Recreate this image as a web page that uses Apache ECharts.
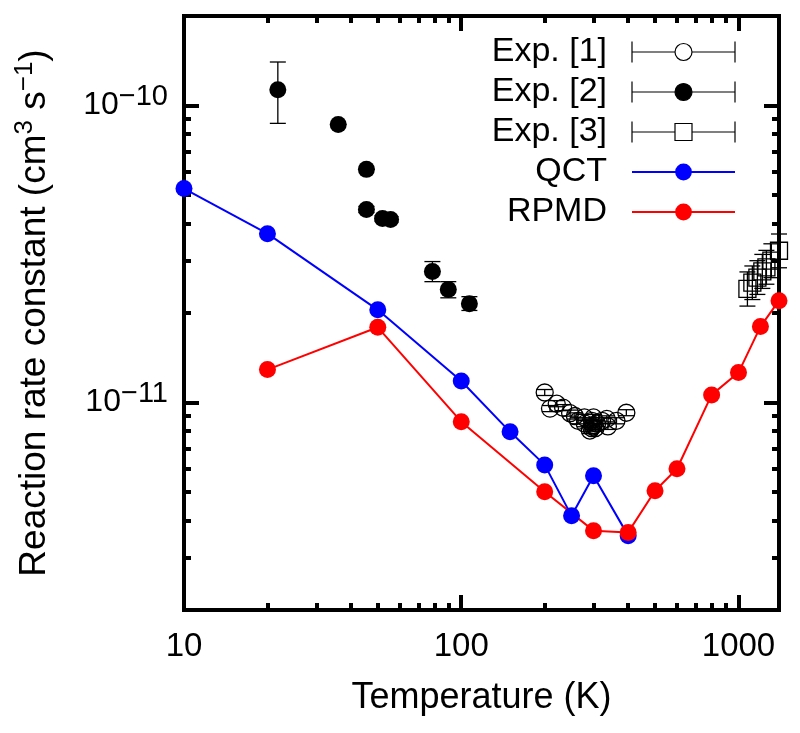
<!DOCTYPE html>
<html><head><meta charset="utf-8">
<script src="https://cdn.jsdelivr.net/npm/echarts@6/dist/echarts.min.js"></script>
<style>html,body{margin:0;padding:0;background:#fff}#c{width:800px;height:733px}</style>
</head><body><div id="c"></div>
<script>
const FONT = "'Liberation Sans', Arial, Helvetica, sans-serif";

// ---- data ----
const qctT = [10, 20, 50, 100, 150, 200, 250, 300, 400];
const qctK = [5.25e-11, 3.70e-11, 2.05e-11, 1.18e-11, 7.96e-12, 6.16e-12, 4.15e-12, 5.66e-12, 3.56e-12];

const rpmdT = [20, 50, 100, 200, 300, 400, 500, 600, 800, 1000, 1200, 1400];
const rpmdK = [1.29e-11, 1.79e-11, 8.61e-12, 5.00e-12, 3.70e-12, 3.65e-12, 5.04e-12, 5.98e-12, 1.06e-11, 1.26e-11, 1.80e-11, 2.20e-11];

const exp1T  = [200, 209, 221, 233, 247, 257, 264, 278, 279, 291, 295, 296, 298, 300, 300, 305, 309, 322, 335, 338, 363, 394];
const exp1K  = [1.08e-11, 9.53e-12, 9.90e-12, 9.60e-12, 9.20e-12, 9.00e-12, 8.67e-12, 8.90e-12, 8.48e-12, 8.04e-12, 8.20e-12, 8.67e-12, 8.30e-12, 8.40e-12, 8.90e-12, 8.20e-12, 8.48e-12, 8.67e-12, 8.80e-12, 8.30e-12, 8.67e-12, 9.23e-12];
const exp1Lo = [1.055e-11, 9.31e-12, 9.67e-12, 9.38e-12, 8.99e-12, 8.79e-12, 8.47e-12, 8.69e-12, 8.28e-12, 7.85e-12, 8.01e-12, 8.47e-12, 8.11e-12, 8.20e-12, 8.69e-12, 8.01e-12, 8.28e-12, 8.47e-12, 8.60e-12, 8.11e-12, 8.47e-12, 9.02e-12];
const exp1Hi = [1.105e-11, 9.76e-12, 1.014e-11, 9.83e-12, 9.42e-12, 9.22e-12, 8.88e-12, 9.11e-12, 8.68e-12, 8.23e-12, 8.40e-12, 8.88e-12, 8.50e-12, 8.60e-12, 9.11e-12, 8.40e-12, 8.68e-12, 8.88e-12, 9.01e-12, 8.50e-12, 8.88e-12, 9.45e-12];

const exp2T  = [21.8, 36, 45.5, 45.5, 52, 55.6, 78.7, 89.8, 107];
const exp2K  = [1.13e-10, 8.63e-11, 6.09e-11, 4.46e-11, 4.16e-11, 4.13e-11, 2.76e-11, 2.40e-11, 2.15e-11];
const exp2Lo = [8.70e-11, 8.63e-11, 6.09e-11, 4.36e-11, 4.08e-11, 4.05e-11, 2.55e-11, 2.25e-11, 2.04e-11];
const exp2Hi = [1.40e-10, 8.63e-11, 6.09e-11, 4.57e-11, 4.25e-11, 4.22e-11, 2.98e-11, 2.55e-11, 2.27e-11];

const exp3T  = [1077, 1122, 1170, 1219, 1261, 1314, 1400];
const exp3K  = [2.41e-11, 2.53e-11, 2.63e-11, 2.76e-11, 2.85e-11, 3.00e-11, 3.24e-11];
const exp3Lo = [2.11e-11, 2.22e-11, 2.31e-11, 2.42e-11, 2.50e-11, 2.63e-11, 2.84e-11];
const exp3Hi = [2.75e-11, 2.88e-11, 3.00e-11, 3.15e-11, 3.25e-11, 3.42e-11, 3.69e-11];

const xMin = 10, xMax = 1400, yMin = 2e-12, yMax = 2e-10;
const xMajor = [10, 100, 1000];
const xMinor = [20, 30, 40, 50, 60, 70, 80, 90, 200, 300, 400, 500, 600, 700, 800, 900];
const yMajor = [1e-11, 1e-10];
const yMinor = [3e-12, 4e-12, 5e-12, 6e-12, 7e-12, 8e-12, 9e-12, 2e-11, 3e-11, 4e-11, 5e-11, 6e-11, 7e-11, 8e-11, 9e-11];

// ---- build ----
const L = Math.log10;
const zip = (a, b) => a.map((v, i) => [v, b[i]]);
const zip4 = (a, b, c, d) => a.map((v, i) => [v, b[i], c[i], d[i]]);

function errRender(params, api) {
  const x = api.value(0), lo = api.value(2), hi = api.value(3);
  const a = api.coord([x, lo]), b = api.coord([x, hi]);
  const w = 8;
  const st = { stroke: '#000', lineWidth: 1.3 };
  return { type: 'group', children: [
    { type: 'line', shape: { x1: a[0], y1: a[1], x2: b[0], y2: b[1] }, style: st },
    { type: 'line', shape: { x1: a[0] - w, y1: a[1], x2: a[0] + w, y2: a[1] }, style: st },
    { type: 'line', shape: { x1: b[0] - w, y1: b[1], x2: b[0] + w, y2: b[1] }, style: st }
  ]};
}

const tickStyle = { color: '#000', width: 4 };
function decoX(pos, vals, len, labels, extra) {
  return Object.assign({
    type: 'value', position: pos, min: L(xMin), max: L(xMax),
    axisLine: { show: false, onZero: false },
    splitLine: { show: false },
    axisTick: { show: true, inside: true, length: len, lineStyle: tickStyle, customValues: vals.map(L) },
    axisLabel: labels ? {
      show: true, customValues: vals.map(L), margin: 20,
      fontFamily: FONT, fontSize: 33, color: '#000',
      formatter: v => String(Math.round(Math.pow(10, v)))
    } : { show: false }
  }, extra || {});
}
function decoY(pos, vals, len, labels, extra) {
  return Object.assign({
    type: 'value', position: pos, min: L(yMin), max: L(yMax),
    axisLine: { show: false, onZero: false },
    splitLine: { show: false },
    axisTick: { show: true, inside: true, length: len, lineStyle: tickStyle, customValues: vals.map(L) },
    axisLabel: labels ? {
      show: true, customValues: vals.map(L), margin: 16, color: '#000',
      formatter: v => '{b|10}{s|\u2212' + Math.abs(Math.round(v)) + '}',
      rich: {
        b: { fontFamily: FONT, fontSize: 32, lineHeight: 46, color: '#000' },
        s: { fontFamily: FONT, fontSize: 29, lineHeight: 29, verticalAlign: 'top', color: '#000' }
      }
    } : { show: false }
  }, extra || {});
}

const ICON_C = 'path://M0,0V21M0,10.5H43M60,10.5H103M103,0V21M43,10.5A8.5,8.5,0,0,1,60,10.5A8.5,8.5,0,0,1,43,10.5Z';
const ICON_S = 'path://M0,0V21M0,10.5H43M60,10.5H103M103,0V21M43,2H60V19H43Z';

const option = {
  animation: false,
  backgroundColor: '#fff',
  grid: { show: true, borderWidth: 4, borderColor: '#000', left: 184, top: 16, width: 595, height: 594 },
  legend: {
    orient: 'vertical', align: 'right', right: 64, top: 34, padding: 0,
    itemWidth: 103, itemHeight: 21, itemGap: 4, selectedMode: false,
    textStyle: { fontFamily: FONT, fontSize: 34, color: '#000', lineHeight: 36, padding: [0, 20, 0, 0] },
    data: [
      { name: 'Exp. [1]', icon: ICON_C, itemStyle: { color: '#fff', borderColor: '#000', borderWidth: 1.2, opacity: 1 } },
      { name: 'Exp. [2]', icon: ICON_C, itemStyle: { color: '#000', borderColor: '#000', borderWidth: 1.2, opacity: 1 } },
      { name: 'Exp. [3]', icon: ICON_S, itemStyle: { color: '#fff', borderColor: '#000', borderWidth: 1.2, opacity: 1 } },
      { name: 'QCT' },
      { name: 'RPMD' }
    ]
  },
  xAxis: [
    { type: 'log', min: xMin, max: xMax, show: false, position: 'bottom', axisLine: { onZero: false } },
    decoX('bottom', xMajor, 15, true, {
      name: 'Temperature (K)', nameLocation: 'middle', nameGap: 70,
      nameTextStyle: { fontFamily: FONT, fontSize: 36, color: '#000' }
    }),
    decoX('bottom', xMinor, 7, false),
    decoX('top', xMajor, 15, false),
    decoX('top', xMinor, 7, false)
  ],
  yAxis: [
    { type: 'log', min: yMin, max: yMax, show: false, position: 'left', axisLine: { onZero: false } },
    decoY('left', yMajor, 15, true, {
      name: '{a|Reaction rate constant (cm}{s|3}{a| s}{s|\u22121}{a|)}',
      nameLocation: 'middle', nameGap: 126, nameRotate: 90,
      nameTextStyle: { rich: {
        a: { fontFamily: FONT, fontSize: 37, lineHeight: 46, color: '#000' },
        s: { fontFamily: FONT, fontSize: 26, lineHeight: 26, verticalAlign: 'top', color: '#000' }
      } }
    }),
    decoY('left', yMinor, 7, false),
    decoY('right', yMajor, 15, false),
    decoY('right', yMinor, 7, false)
  ],
  series: [
    { type: 'custom', name: 'err1', renderItem: errRender, clip: false, data: zip4(exp1T, exp1K, exp1Lo, exp1Hi), encode: { x: 0, y: 1 } },
    { type: 'scatter', name: 'Exp. [1]', symbol: 'circle', symbolSize: 17, clip: false,
      itemStyle: { color: 'rgba(0,0,0,0)', borderColor: '#000', borderWidth: 1.3, opacity: 1 }, data: zip(exp1T, exp1K) },
    { type: 'custom', name: 'err2', renderItem: errRender, clip: false, data: zip4(exp2T, exp2K, exp2Lo, exp2Hi), encode: { x: 0, y: 1 } },
    { type: 'scatter', name: 'Exp. [2]', symbol: 'circle', symbolSize: 17, clip: false,
      itemStyle: { color: '#000', borderColor: '#000', borderWidth: 0, opacity: 1 }, data: zip(exp2T, exp2K) },
    { type: 'custom', name: 'err3', renderItem: errRender, clip: false, data: zip4(exp3T, exp3K, exp3Lo, exp3Hi), encode: { x: 0, y: 1 } },
    { type: 'scatter', name: 'Exp. [3]', symbol: 'rect', symbolSize: 17, clip: false,
      itemStyle: { color: 'rgba(0,0,0,0)', borderColor: '#000', borderWidth: 1.3, opacity: 1 }, data: zip(exp3T, exp3K) },
    { type: 'line', name: 'QCT', symbol: 'circle', symbolSize: 17, showAllSymbol: true, clip: false,
      itemStyle: { color: '#0000ff' }, lineStyle: { color: '#0000ff', width: 2 }, data: zip(qctT, qctK) },
    { type: 'line', name: 'RPMD', symbol: 'circle', symbolSize: 17, showAllSymbol: true, clip: false,
      itemStyle: { color: '#ff0000' }, lineStyle: { color: '#ff0000', width: 2 }, data: zip(rpmdT, rpmdK) }
  ]
};

const chart = echarts.init(document.getElementById('c'), null, { renderer: 'canvas' });
chart.setOption(option);
</script>
</body></html>
